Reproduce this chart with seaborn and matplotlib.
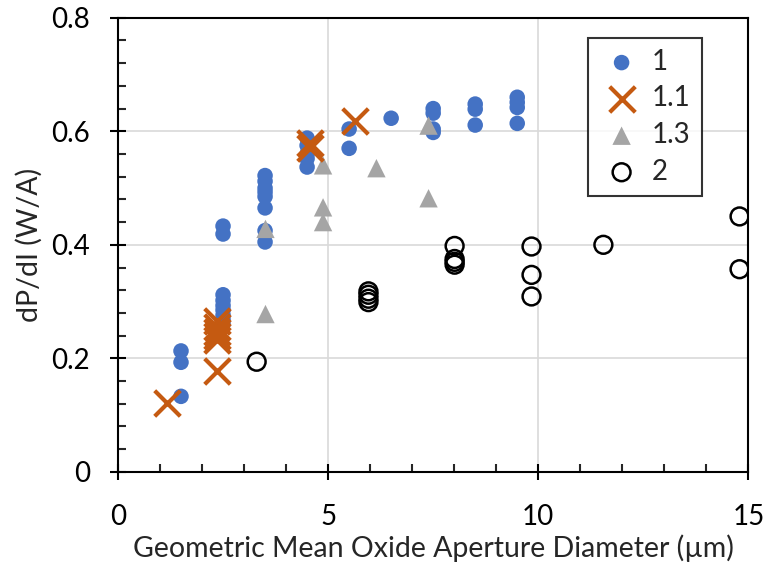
import numpy as np
import pandas as pd
import seaborn as sns
import matplotlib.pyplot as plt
from matplotlib.ticker import MultipleLocator

# series "1" (blue filled circles)
x_1 = [1.5, 1.5, 1.5,
       2.5, 2.5, 2.5, 2.5, 2.5, 2.5, 2.5, 2.5, 2.5,
       3.5, 3.5, 3.5, 3.5, 3.5, 3.5, 3.5, 3.5,
       4.5, 4.5, 4.5, 4.5, 4.5,
       5.5, 5.5, 6.5,
       7.5, 7.5, 7.5, 7.5,
       8.5, 8.5, 8.5,
       9.5, 9.5, 9.5, 9.5]
y_1 = [0.213, 0.193, 0.133,
       0.433, 0.419, 0.312, 0.302, 0.293, 0.285, 0.276, 0.268, 0.26,
       0.522, 0.512, 0.500, 0.493, 0.485, 0.465, 0.425, 0.405,
       0.588, 0.575, 0.56, 0.552, 0.537,
       0.604, 0.57, 0.623,
       0.640, 0.632, 0.604, 0.598,
       0.648, 0.639, 0.611,
       0.660, 0.651, 0.642, 0.614]

# series "1.1" (orange crosses)
x_11 = [1.16, 2.36, 2.36, 2.36, 2.36, 2.36, 2.36, 4.57, 4.57, 5.64]
y_11 = [0.121, 0.177, 0.265, 0.256, 0.247, 0.240, 0.232, 0.580, 0.570, 0.619]

# series "1.3" (grey triangles)
x_13 = [3.51, 3.51, 4.88, 4.88, 4.88, 6.15, 7.39, 7.39]
y_13 = [0.428, 0.278, 0.540, 0.466, 0.440, 0.535, 0.610, 0.482]

# series "2" (open black circles)
x_2 = [3.30, 5.96, 5.96, 5.96, 5.96, 8.01, 8.01, 8.01, 8.01,
       9.84, 9.84, 9.84, 11.55, 14.79, 14.79]
y_2 = [0.194, 0.318, 0.312, 0.305, 0.299, 0.398, 0.375, 0.370, 0.365,
       0.397, 0.347, 0.309, 0.400, 0.450, 0.357]

sns.set_style("white")
plt.rcParams["font.family"] = ["Lato", "DejaVu Sans"]

fig = plt.figure(figsize=(7.66, 5.74), dpi=100)
ax = fig.add_axes([0.154, 0.178, 0.823, 0.791])

sns.scatterplot(x=x_1, y=y_1, ax=ax, color="#4472C4", marker="o", s=125,
                edgecolor="none", label="1", zorder=3)
sns.scatterplot(x=x_11, y=y_11, ax=ax, color="#C55A11", marker="x", s=340,
                linewidth=3.0, label="1.1", zorder=4)
sns.scatterplot(x=x_13, y=y_13, ax=ax, color="#A5A5A5", marker="^", s=175,
                edgecolor="none", label="1.3", zorder=3)
sns.scatterplot(x=x_2, y=y_2, ax=ax, marker="o", s=165, facecolor="none",
                edgecolor="black", linewidth=1.8, label="2", zorder=3)

ax.set_xlim(0, 15)
ax.set_ylim(0, 0.8)
ax.xaxis.set_major_locator(MultipleLocator(5))
ax.xaxis.set_minor_locator(MultipleLocator(1))
ax.yaxis.set_major_locator(MultipleLocator(0.2))
ax.yaxis.set_minor_locator(MultipleLocator(0.04))
ax.set_yticks([0, 0.2, 0.4, 0.6, 0.8])
ax.set_yticklabels(["0", "0.2", "0.4", "0.6", "0.8"])

ax.grid(True, which="major", color="#D9D9D9", linewidth=1.2)
ax.set_axisbelow(True)
for sp in ax.spines.values():
    sp.set_visible(True)
    sp.set_color("black")
    sp.set_linewidth(1.5)

ax.tick_params(which="major", direction="inout", length=12, width=1.5,
               labelsize=20, colors="black")
ax.tick_params(which="minor", direction="in", length=6, width=1.5)
ax.tick_params(axis="x", which="both", bottom=True, top=False)
ax.tick_params(axis="x", which="major", pad=17)
ax.tick_params(axis="y", which="both", left=True, right=False)
ax.tick_params(axis="y", which="major", pad=14)

ax.set_xlabel("Geometric Mean Oxide Aperture Diameter (µm)", fontsize=20.5,
              labelpad=3)
ax.set_ylabel("dP/dI (W/A)", fontsize=20.5, labelpad=6)

leg = ax.legend(loc="upper left", bbox_to_anchor=(0.746, 0.956),
                borderaxespad=0, fontsize=20, frameon=True, fancybox=False,
                handletextpad=0.3, handlelength=1.6, labelspacing=0.38,
                borderpad=0.4, markerscale=1.0)
leg.get_frame().set_edgecolor("black")
leg.get_frame().set_linewidth(1.5)

fig.savefig("out.png", dpi=100)
